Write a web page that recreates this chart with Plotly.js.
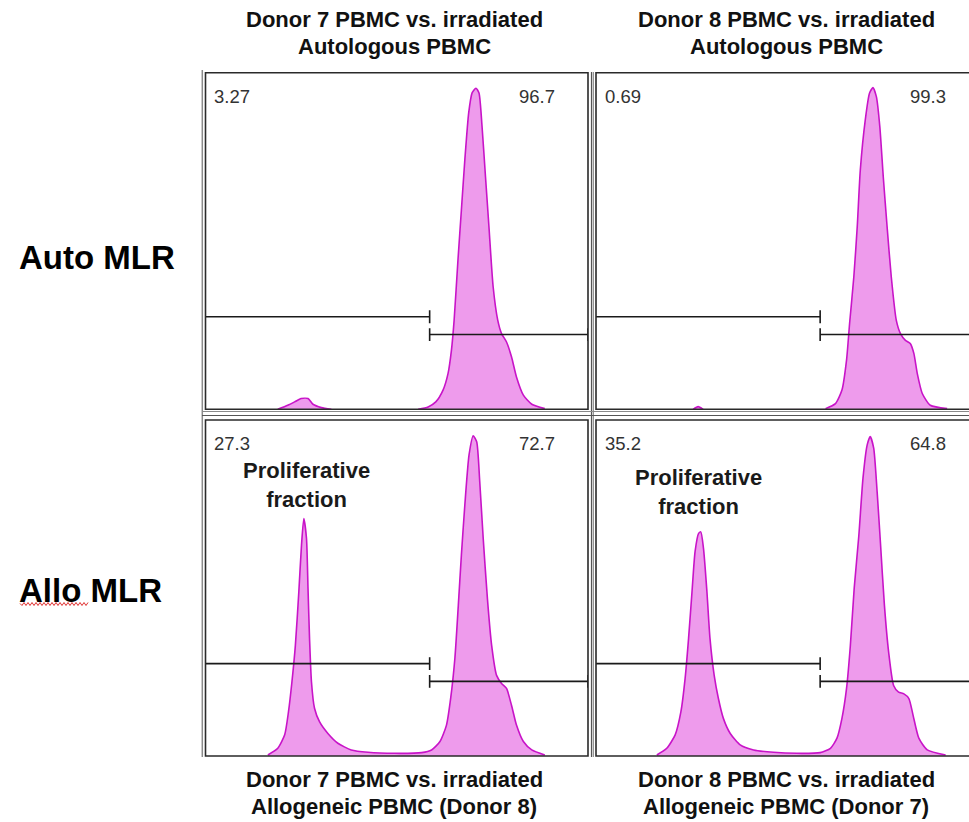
<!DOCTYPE html>
<html>
<head>
<meta charset="utf-8">
<script src="https://cdn.plot.ly/plotly-3.0.1.min.js"></script>
<style>
  html, body { margin: 0; padding: 0; background: #ffffff; }
  #chart { width: 969px; height: 822px; }
</style>
</head>
<body>
<div id="chart"></div>
<script>
// CFSE dilution histograms (fluorescence channel 0-1000, % of modal count)

// Donor 7 vs. irradiated autologous PBMC (Auto MLR)
const autoD7_x = [189, 215, 233, 250, 268, 281, 303, 329, null,
  556, 582, 602, 621, 634, 643, 650, 660, 669, 678, 688, 697, 707, 715, 723, 732, 741, 752, 764, 774, 787, 800, 813, 831, 853, 887];
const autoD7_y = [0, 1.2, 2.2, 3.2, 3.2, 1.5, 0.5, 0, null,
  0, 0.7, 2.2, 5.7, 10.6, 17.6, 26.5, 44.3, 59.2, 74.1, 88, 94, 95.4, 94, 84, 69.1, 54.3, 36.4, 26.5, 22.5, 20, 15.6, 9.6, 4.2, 1.5, 0.2];

// Donor 8 vs. irradiated autologous PBMC (Auto MLR)
const autoD8_x = [254, 267, 280, null,
  600, 626, 643, 655, 663, 674, 683, 691, 704, 715, 724, 733, 742, 751, 761, 772, 785, 796, 809, 822, 831, 840, 853, 874, 918];
const autoD8_y = [0, 0.8, 0, null,
  0.2, 1.7, 5.7, 14.6, 25.5, 39.3, 54.3, 71.1, 86, 93.9, 95.6, 92.9, 84, 69.1, 54.3, 39.3, 26.5, 22.5, 20.5, 19.5, 16.6, 10.6, 4.7, 1.2, 0.2];

// Donor 7 vs. irradiated allogeneic PBMC from Donor 8 (Allo MLR)
const alloD7_x = [163, 189, 207, 217, 226, 235, 244, 251, 257, 264, 268, 272, 277, 285, 298, 320, 346, 381, 425, 495, 565,
  591, 613, 630, 641, 652, 661, 669, 678, 689, 700, 709, 717, 726, 737, 748, 761, 774, 787, 800, 813, 831, 853, 887];
const alloD7_y = [0.3, 2.3, 6.3, 13.2, 22.1, 33, 48.9, 62.8, 70.7, 64.8, 49.9, 35, 22.1, 14.2, 10.2, 6.7, 3.8, 1.8, 1.1, 0.8, 1,
  1.8, 4.3, 9.2, 17.2, 29.1, 44.9, 59.8, 74.7, 89.6, 95.3, 93.5, 81.6, 64.8, 46.9, 33, 24, 21.6, 20.1, 15.1, 9.2, 4.3, 1.8, 0.3];

// Donor 8 vs. irradiated allogeneic PBMC from Donor 7 (Allo MLR)
const alloD8_x = [159, 185, 207, 222, 233, 242, 251, 259, 268, 274, 281, 290, 298, 309, 320, 333, 351, 377, 412, 464, 525, 586,
  613, 630, 643, 655, 665, 675, 687, 698, 709, 717, 726, 735, 744, 754, 765, 778, 791, 805, 818, 829, 844, 866, 914];
const alloD8_y = [0.3, 2.3, 6.3, 13.2, 23.1, 35, 48.9, 60.8, 66.2, 66.7, 61.8, 48.9, 35, 24, 17.1, 11.2, 6.7, 3.3, 1.8, 1.1, 0.8, 1,
  2.3, 5.3, 11.2, 20.1, 32.9, 49.9, 65.4, 82.7, 92.6, 95.1, 91.6, 78.6, 62.8, 44.9, 31, 21, 19, 18.5, 17.1, 12.1, 5.3, 1.8, 0.3];

// Marker gates: boundary channel, gate heights, and the percentage inside each gate
const gateSplit = 586;
const gateLeftLevel = 27.5;
const gateRightLevel = 22.2;
const pctLow  = ['3.27', '0.69', '27.3', '35.2'];
const pctHigh = ['96.7', '99.3', '72.7', '64.8'];

const topTitles = [['Donor 7 PBMC vs. irradiated', 'Autologous PBMC'], ['Donor 8 PBMC vs. irradiated', 'Autologous PBMC']];
const bottomTitles = [['Donor 7 PBMC vs. irradiated', 'Allogeneic PBMC (Donor 8)'], ['Donor 8 PBMC vs. irradiated', 'Allogeneic PBMC (Donor 7)']];
const rowLabels = ['Auto MLR', 'Allo MLR'];

const W = 969, H = 822;
const FONT = 'Liberation Sans, Arial, Helvetica, sans-serif';
const LINE = 'rgb(200,20,200)';
const FILL = 'rgb(238,155,236)';

// panel boxes in pixels: [left, top, right, bottom]
const boxes = [
  [205.5, 72.7, 588, 409.3],
  [596, 72.7, 978, 409.3],
  [205.5, 420, 588, 756],
  [596, 420, 978, 756]
];
const px = v => v / W;
const py = v => (H - v) / H;

const series = [[autoD7_x, autoD7_y], [autoD8_x, autoD8_y], [alloD7_x, alloD7_y], [alloD8_x, alloD8_y]];
const axisIds = [['x', 'y'], ['x2', 'y2'], ['x3', 'y3'], ['x4', 'y4']];

const traces = series.map((s, i) => ({
  type: 'scatter', mode: 'lines',
  x: s[0], y: s[1],
  xaxis: axisIds[i][0], yaxis: axisIds[i][1],
  line: {color: LINE, width: 1.6, shape: 'spline', smoothing: 0.6},
  fill: 'tozeroy', fillcolor: FILL,
  connectgaps: false, hoverinfo: 'skip', showlegend: false
}));

const layout = {
  width: W, height: H,
  margin: {l: 0, r: 0, t: 0, b: 0},
  paper_bgcolor: '#ffffff', plot_bgcolor: 'rgba(0,0,0,0)',
  showlegend: false,
  shapes: [], annotations: []
};

boxes.forEach((b, i) => {
  const n = i === 0 ? '' : String(i + 1);
  const right = Math.min(b[2], W);
  const xMax = 1000 * (right - b[0]) / 382.5;
  layout['xaxis' + n] = {domain: [px(b[0]), px(right)], range: [0, xMax], visible: false, fixedrange: true,
    anchor: 'y' + n};
  layout['yaxis' + n] = {domain: [py(b[3]), py(b[1])], range: [0, 100], visible: false, fixedrange: true,
    anchor: 'x' + n};

  const xr = 'x' + n, yr = 'y' + n;
  const xEnd = 1000;
  // gate bars with end ticks
  const seg = (x0, y0, x1, y1) => ({type: 'line', xref: xr, yref: yr, x0, y0, x1, y1,
    line: {color: '#1a1a1a', width: 1.6}, layer: 'above'});
  layout.shapes.push(seg(0, gateLeftLevel, gateSplit, gateLeftLevel));
  layout.shapes.push(seg(gateSplit, gateLeftLevel - 1.9, gateSplit, gateLeftLevel + 1.9));
  layout.shapes.push(seg(gateSplit, gateRightLevel, xEnd, gateRightLevel));
  layout.shapes.push(seg(gateSplit, gateRightLevel - 1.9, gateSplit, gateRightLevel + 1.9));
  layout.shapes.push(seg(xEnd, gateRightLevel - 1.9, xEnd, gateRightLevel + 1.9));

  // gate percentages
  layout.annotations.push({xref: xr, yref: yr, x: 18, y: 93, xanchor: 'left', yanchor: 'middle',
    text: pctLow[i], showarrow: false, font: {family: FONT, size: 18.5, color: '#333333'}});
  layout.annotations.push({xref: xr, yref: yr, x: 920, y: 93, xanchor: 'right', yanchor: 'middle',
    text: pctHigh[i], showarrow: false, font: {family: FONT, size: 18.5, color: '#333333'}});

  // panel frame
  layout.shapes.push({type: 'rect', xref: 'paper', yref: 'paper',
    x0: px(b[0]), x1: px(b[2]), y0: py(b[3]), y1: py(b[1]),
    line: {color: '#2a2a2a', width: 1.6}, layer: 'above'});
});

// outer frame lines
const pline = (x0, y0, x1, y1, color, width) => ({type: 'line', xref: 'paper', yref: 'paper',
  x0: px(x0), y0: py(y0), x1: px(x1), y1: py(y1), line: {color, width}, layer: 'above'});
layout.shapes.push(pline(202.3, 70, 202.3, 757, '#8a8a8a', 1.5));
layout.shapes.push(pline(591.5, 72, 591.5, 757, '#555555', 1.2));
layout.shapes.push(pline(593.3, 72, 593.3, 757, '#8a8a8a', 1.2));
layout.shapes.push(pline(202, 411.5, 969, 411.5, '#8a8a8a', 1.2));
layout.shapes.push(pline(202, 415.5, 969, 415.5, '#555555', 1.2));

// "Proliferative fraction" callouts
layout.annotations.push({xref: 'x3', yref: 'y3', x: 264, y: 80.6, xanchor: 'center', yanchor: 'middle',
  text: 'Proliferative<br>fraction', showarrow: false, font: {family: FONT, size: 22, color: '#1a1a1a', weight: 'bold'}});
layout.annotations.push({xref: 'x4', yref: 'y4', x: 267, y: 78.6, xanchor: 'center', yanchor: 'middle',
  text: 'Proliferative<br>fraction', showarrow: false, font: {family: FONT, size: 22, color: '#1a1a1a', weight: 'bold'}});

// column titles above and below
const titleAt = (text, cx, cy) => ({xref: 'paper', yref: 'paper', x: px(cx), y: py(cy),
  xanchor: 'center', yanchor: 'middle', text, showarrow: false,
  font: {family: FONT, size: 22, color: '#111111', weight: 'bold'}});
const centers = [394, 786];
topTitles.forEach((t, c) => {
  layout.annotations.push(titleAt(t[0], centers[c], 20));
  layout.annotations.push(titleAt(t[1], centers[c], 46));
});
bottomTitles.forEach((t, c) => {
  layout.annotations.push(titleAt(t[0], centers[c], 779));
  layout.annotations.push(titleAt(t[1], centers[c], 806));
});

// row labels
[[rowLabels[0], 258], [rowLabels[1], 590]].forEach(([t, cy]) => {
  layout.annotations.push({xref: 'paper', yref: 'paper', x: px(17), y: py(cy), xanchor: 'left', yanchor: 'middle',
    text: t, showarrow: false, font: {family: FONT, size: 33, color: '#000000', weight: 'bold'}});
});

// wavy spell-check underline beneath "Allo"
let wave = 'M ' + px(20) + ' ' + py(603.5);
for (let xx = 22, k = 0; xx <= 88; xx += 2, k++) {
  wave += ' L ' + px(xx) + ' ' + py(k % 2 === 0 ? 605.5 : 602.5);
}
layout.shapes.push({type: 'path', xref: 'paper', yref: 'paper', path: wave,
  line: {color: '#e03030', width: 1}, layer: 'above'});

Plotly.newPlot('chart', traces, layout, {staticPlot: true, displayModeBar: false});
</script>
</body>
</html>
